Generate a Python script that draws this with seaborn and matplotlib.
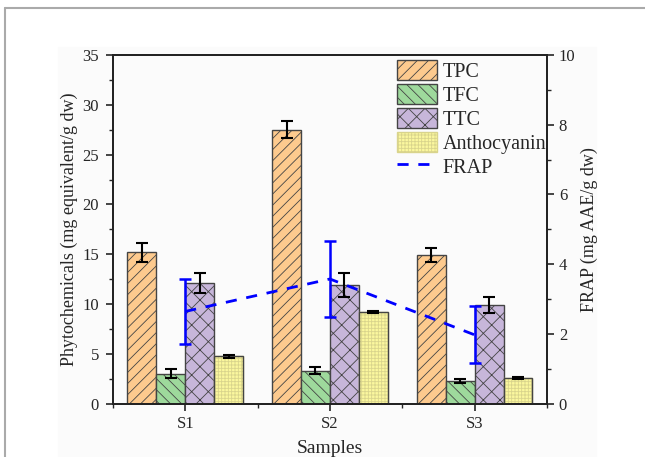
import numpy as np
import pandas as pd
import seaborn as sns
import matplotlib.pyplot as plt
from matplotlib.patches import Patch, Rectangle
from matplotlib.lines import Line2D
from matplotlib.ticker import MultipleLocator

# data
samples = ["S1", "S2", "S3"]
groups = ["TPC", "TFC", "TTC", "Anthocyanin"]
tpc = [15.2, 27.5, 14.95]
tpc_sd = [0.95, 0.85, 0.7]
tfc = [3.05, 3.35, 2.35]
tfc_sd = [0.45, 0.33, 0.2]
ttc = [12.1, 11.9, 9.9]
ttc_sd = [1.0, 1.2, 0.8]
antho = [4.8, 9.2, 2.6]
antho_sd = [0.15, 0.12, 0.08]
frap = [2.65, 3.58, 1.98]
frap_sd = [0.93, 1.1, 0.82]

colors = ["#FDCA8E", "#9ED99C", "#C7B6DA", "#FBF79E"]
hatches = ["///", "\\\\\\", "xx", "+++++"]
hatch_edges = ["#444444", "#444444", "#444444", "#D9D48C"]

sns.set_theme(style="ticks")
plt.rcParams["font.family"] = ["Liberation Serif", "DejaVu Serif"]
plt.rcParams["hatch.linewidth"] = 0.6

df = pd.DataFrame({
    "Sample": samples * 4,
    "Group": [g for g in groups for _ in samples],
    "Value": tpc + tfc + ttc + antho,
})
sds = [tpc_sd, tfc_sd, ttc_sd, antho_sd]

fig = plt.figure(figsize=(6.45, 4.57), dpi=100)
# faint grey card behind the chart, as in the scanned original
fig.add_artist(Rectangle((58 / 645, 0), (596 - 58) / 645, 1 - 47 / 457,
                         transform=fig.transFigure, color="#fbfbfb", zorder=0))
ax = fig.add_axes([0.175, 0.116, 0.673, 0.764])
ax.patch.set_alpha(0)

sns.barplot(data=df, x="Sample", y="Value", hue="Group", hue_order=groups,
            palette=colors, errorbar=None, edgecolor="#444444", linewidth=1.0,
            saturation=1, legend=False, ax=ax)

for cont, h, ec, sd in zip(ax.containers, hatches, hatch_edges, sds):
    xs = []
    ys = []
    for bar in cont:
        bar.set_hatch(h)
        bar.set_edgecolor(ec)
        if ec != "#444444":
            # keep a dark outline around a lightly hatched bar
            ax.add_patch(Rectangle(bar.get_xy(), bar.get_width(), bar.get_height(),
                                   fill=False, edgecolor="#444444", linewidth=1.0, zorder=3))
        xs.append(bar.get_x() + bar.get_width() / 2)
        ys.append(bar.get_height())
    ax.errorbar(xs, ys, yerr=sd, fmt="none", ecolor="black", elinewidth=1.5,
                capsize=4, capthick=1.5, zorder=5)

ax.set_xlim(-0.5, 2.5)
ax.set_ylim(0, 35)
ax.yaxis.set_major_locator(MultipleLocator(5))
ax.yaxis.set_minor_locator(MultipleLocator(2.5))
ax.xaxis.set_minor_locator(MultipleLocator(0.5))
ax.set_xticks([0, 1, 2])
ax.set_xticklabels(samples)
ax.set_xlabel("Samples", fontsize=14, labelpad=6)
ax.set_ylabel("Phytochemicals (mg equivalent/g dw)", fontsize=13, labelpad=3)
ax.tick_params(axis="both", which="major", labelsize=12, length=5, width=1.2, direction="out")
ax.tick_params(axis="y", which="major", pad=5)
ax.tick_params(axis="both", which="minor", length=3, width=1.0, direction="out")

ax2 = ax.twinx()
sns.lineplot(x=[0, 1, 2], y=frap, ax=ax2, color="blue", linewidth=2, linestyle=(0, (4, 3.5)))
ax2.errorbar([0, 1, 2], frap, yerr=frap_sd, fmt="none", ecolor="blue", elinewidth=1.8,
             capsize=4, capthick=1.8)
ax2.set_ylim(0, 10)
ax2.yaxis.set_major_locator(MultipleLocator(2))
ax2.yaxis.set_minor_locator(MultipleLocator(1))
ax2.set_ylabel("FRAP (mg AAE/g dw)", fontsize=13, labelpad=4)
ax2.tick_params(axis="y", which="major", labelsize=12, length=5, width=1.2)
ax2.tick_params(axis="y", which="minor", length=3, width=1.0)

for a in (ax, ax2):
    for s in a.spines.values():
        s.set_linewidth(1.3)
        s.set_color("#222222")
        s.set_visible(True)

handles = [Patch(facecolor=c, edgecolor=ec, hatch=h, label=g)
           for c, h, ec, g in zip(colors, hatches, hatch_edges, groups)]
handles.append(Line2D([0], [0], color="blue", lw=2, linestyle=(0, (4, 3.5)), label="FRAP"))
leg = ax2.legend(handles=handles, loc="upper right", bbox_to_anchor=(1.035, 1.03), frameon=False,
                 fontsize=14.5, handlelength=2.0, handleheight=1.1, handletextpad=0.25,
                 labelspacing=0.12, borderaxespad=0.4)
for p in leg.get_patches():
    p.set_linewidth(1.0)

# outer card frame of the original figure
fig.add_artist(Line2D([5 / 645, 5 / 645], [0, 1 - 8 / 457], color="#aaaaaa", lw=1.5))
fig.add_artist(Line2D([5 / 645, 1], [1 - 8 / 457, 1 - 8 / 457], color="#aaaaaa", lw=1.5))

fig.savefig("out.png", dpi=100)
